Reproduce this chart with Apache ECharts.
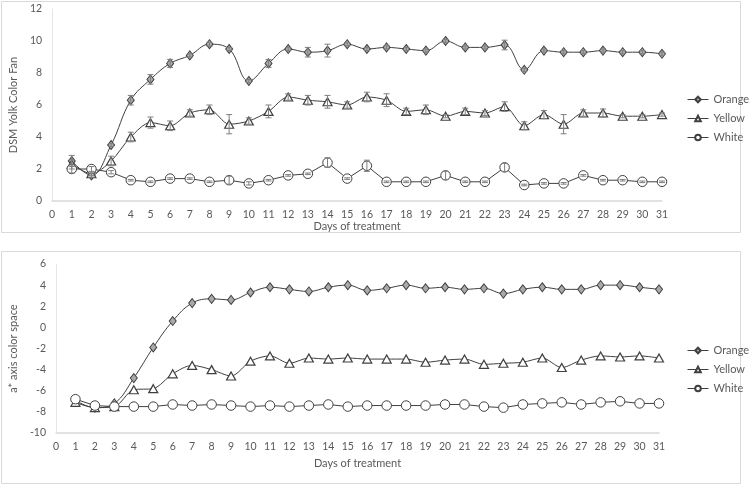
<!DOCTYPE html>
<html>
<head>
<meta charset="utf-8">
<script src="https://cdn.jsdelivr.net/npm/echarts@6/dist/echarts.min.js"></script>
<style>
html,body{margin:0;padding:0;background:#fff;}
#c{width:750px;height:485px;}
</style>
</head>
<body>
<div id="c"></div>
<script>
// ---- data ----
const days = [1,2,3,4,5,6,7,8,9,10,11,12,13,14,15,16,17,18,19,20,21,22,23,24,25,26,27,28,29,30,31];
const seriesNames = ['Orange','Yellow','White'];

const topOrange = [2.5,1.6,3.5,6.3,7.6,8.6,9.1,9.8,9.5,7.5,8.6,9.5,9.3,9.4,9.8,9.5,9.6,9.5,9.4,10.0,9.6,9.6,9.75,8.2,9.4,9.3,9.3,9.4,9.3,9.3,9.2];
const topOrangeErr = [0.35,0.1,0.1,0.3,0.3,0.25,0.1,0.12,0.1,0.1,0.25,0.1,0.3,0.4,0.1,0.1,0.1,0.1,0.1,0.1,0.1,0.1,0.3,0.1,0.1,0.1,0.1,0.1,0.1,0.1,0.1];
const topYellow = [2.3,1.7,2.5,4.0,4.9,4.7,5.5,5.7,4.8,5.0,5.6,6.5,6.3,6.2,6.0,6.5,6.3,5.6,5.7,5.3,5.6,5.5,5.9,4.7,5.4,4.8,5.5,5.5,5.3,5.3,5.4];
const topYellowErr = [0.3,0.1,0.3,0.3,0.35,0.3,0.2,0.3,0.6,0.2,0.4,0.2,0.3,0.4,0.2,0.3,0.4,0.2,0.3,0.1,0.2,0.15,0.3,0.25,0.25,0.6,0.2,0.25,0.1,0.1,0.1];
const topWhite = [2.0,2.0,1.8,1.3,1.2,1.4,1.4,1.2,1.3,1.1,1.3,1.6,1.7,2.4,1.4,2.2,1.2,1.2,1.2,1.6,1.2,1.2,2.1,1.0,1.1,1.1,1.6,1.3,1.3,1.2,1.2];
const topWhiteErr = [0.25,0.15,0.1,0.05,0.05,0.05,0.05,0.05,0.25,0.1,0.05,0.05,0.05,0.3,0.05,0.35,0.05,0.05,0.05,0.25,0.05,0.05,0.25,0.05,0.05,0.05,0.05,0.05,0.05,0.05,0.05];

const botOrange = [-6.9,-7.6,-7.2,-4.8,-1.9,0.6,2.3,2.7,2.6,3.3,3.8,3.6,3.4,3.8,4.0,3.5,3.7,4.0,3.7,3.8,3.6,3.7,3.2,3.6,3.8,3.6,3.6,4.0,4.0,3.8,3.6];
const botYellow = [-7.1,-7.6,-7.5,-5.9,-5.8,-4.4,-3.6,-4.0,-4.6,-3.2,-2.7,-3.4,-2.9,-3.0,-2.9,-3.0,-3.0,-3.0,-3.3,-3.1,-3.0,-3.5,-3.4,-3.3,-2.9,-3.8,-3.1,-2.7,-2.8,-2.7,-2.9];
const botWhite = [-6.8,-7.4,-7.5,-7.5,-7.5,-7.3,-7.4,-7.3,-7.4,-7.5,-7.4,-7.5,-7.4,-7.3,-7.5,-7.4,-7.4,-7.4,-7.4,-7.3,-7.3,-7.5,-7.6,-7.3,-7.2,-7.1,-7.3,-7.1,-7.0,-7.2,-7.2];

const topYName = 'DSM Yolk Color Fan';
const botYName = 'a* axis color space';
const xName = 'Days of treatment';

// ---- styles ----
const FONT = 'Lato';
const TXT = '#595959';
const AX = '#d9d9d9';
const LINE = '#404040';

const pairs = vals => days.map((d,i)=>[d, vals[i]]);
const errs = (vals, e) => days.map((d,i)=>[d, vals[i]-e[i], vals[i]+e[i]]);

const markerStyle = {
  Orange: {symbol:'diamond', symbolSize:[7,9], itemStyle:{color:'#aaaaaa', borderColor:LINE, borderWidth:1}},
  Yellow: {symbol:'triangle', symbolSize:[9,8], itemStyle:{color:'#ffffff', borderColor:LINE, borderWidth:1.2}},
  White:  {symbol:'circle', symbolSize:9.5, itemStyle:{color:'#ffffff', borderColor:LINE, borderWidth:1}}
};
const smoothMap = {Orange:0.4, Yellow:0.3, White:false};

function lineSeries(name, data, idx){
  const m = markerStyle[name];
  return {
    type:'line', name:name, xAxisIndex:idx, yAxisIndex:idx,
    data:pairs(data), smooth:smoothMap[name],
    symbol:m.symbol, symbolSize:m.symbolSize, showAllSymbol:true,
    lineStyle:{color:LINE, width:1},
    itemStyle:m.itemStyle, z:3
  };
}

function errSeries(name, vals, e){
  return {
    type:'custom', name:name, xAxisIndex:0, yAxisIndex:0,
    data:errs(vals, e), z:4, silent:true,
    renderItem:function(params, api){
      const x = api.value(0);
      const pHi = api.coord([x, api.value(2)]);
      const pLo = api.coord([x, api.value(1)]);
      const w = 3;
      const st = {stroke:'#7f7f7f', lineWidth:1};
      return {type:'group', children:[
        {type:'line', shape:{x1:pHi[0], y1:pHi[1], x2:pLo[0], y2:pLo[1]}, style:st},
        {type:'line', shape:{x1:pHi[0]-w, y1:pHi[1], x2:pHi[0]+w, y2:pHi[1]}, style:st},
        {type:'line', shape:{x1:pLo[0]-w, y1:pLo[1], x2:pLo[0]+w, y2:pLo[1]}, style:st}
      ]};
    }
  };
}

function xAxis(idx, gap){
  return {
    type:'value', gridIndex:idx, min:0, max:31, interval:1,
    name:xName, nameLocation:'middle', nameGap:gap,
    nameTextStyle:{color:TXT, fontFamily:FONT, fontSize:11},
    axisLine:{show:true, onZero:false, lineStyle:{color:AX, width:1.5}},
    axisTick:{show:false}, splitLine:{show:false},
    axisLabel:{color:TXT, fontFamily:FONT, fontSize:10.5, margin:8}
  };
}
function yAxis(idx, name, min, max, gap){
  return {
    type:'value', gridIndex:idx, min:min, max:max, interval:2,
    name:name, nameLocation:'middle', nameGap:gap, nameRotate:90,
    nameTextStyle:{color:TXT, fontFamily:FONT, fontSize:11},
    axisLine:{show:true, lineStyle:{color:'#e6e6e6', width:1}},
    axisTick:{show:false}, splitLine:{show:false},
    axisLabel:{color:TXT, fontFamily:FONT, fontSize:10.5, margin:10}
  };
}
function legend(top){
  return {
    orient:'vertical', left:682, top:top, itemWidth:21, itemHeight:7, itemGap:8,
    data:seriesNames, selectedMode:false,
    lineStyle:{width:1},
    textStyle:{color:TXT, fontFamily:FONT, fontSize:11}
  };
}

const chart = echarts.init(document.getElementById('c'), null, {renderer:'canvas'});
chart.setOption({
  backgroundColor:'#ffffff',
  animation:false,
  graphic:[
    {type:'rect', shape:{x:1.5, y:1.5, width:739, height:231}, style:{fill:'none', stroke:AX, lineWidth:1}, z:-1},
    {type:'rect', shape:{x:1.5, y:251.5, width:739, height:232}, style:{fill:'none', stroke:AX, lineWidth:1}, z:-1}
  ],
  grid:[
    {left:46, top:9, width:616, height:192},
    {left:56, top:264, width:603, height:169}
  ],
  legend:[legend(89), legend(340)],
  xAxis:[xAxis(0, 19), xAxis(1, 25)],
  yAxis:[yAxis(0, topYName, 0, 12, 25), yAxis(1, botYName, -10, 6, 29)],
  series:[
    lineSeries('Orange', topOrange, 0),
    lineSeries('Yellow', topYellow, 0),
    lineSeries('White', topWhite, 0),
    errSeries('errOrange', topOrange, topOrangeErr),
    errSeries('errYellow', topYellow, topYellowErr),
    errSeries('errWhite', topWhite, topWhiteErr),
    lineSeries('Orange', botOrange, 1),
    lineSeries('Yellow', botYellow, 1),
    lineSeries('White', botWhite, 1)
  ]
});
</script>
</body>
</html>
